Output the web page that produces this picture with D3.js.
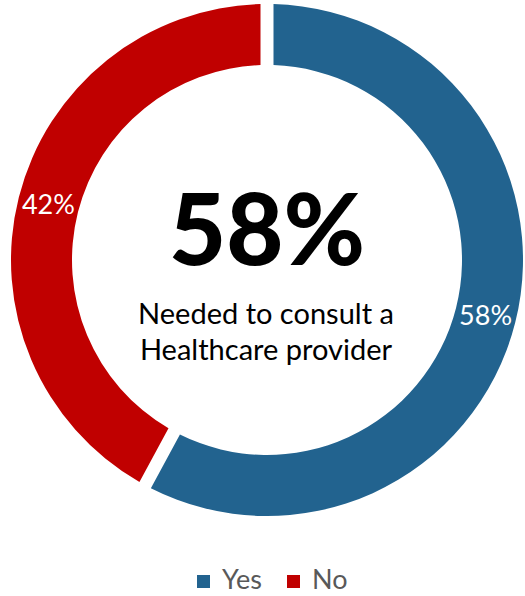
<!DOCTYPE html>
<html>
<head>
<meta charset="utf-8">
<script src="https://cdn.jsdelivr.net/npm/d3@7"></script>
<style>
  html, body { margin: 0; padding: 0; background: #ffffff; }
  svg { display: block; }
  text { font-family: Lato, "Open Sans", sans-serif; }
</style>
</head>
<body>
<svg id="chart" width="525" height="596"></svg>
<script>
// Survey answers: share who needed to consult a healthcare provider
const categories = ["Yes", "No"];
const shares = [58, 42];
const colors = ["#22638f", "#c00000"];
const headline = "58%";
const captionLines = ["Needed to consult a", "Healthcare provider"];

const svg = d3.select("#chart");
const cx = 267, cy = 260;
const outerR = 256, innerR = 195;

// scale text so it spans a given width
function fitWidth(sel, target) {
  const len = sel.node().getComputedTextLength();
  const fs = parseFloat(sel.attr("font-size"));
  sel.attr("font-size", fs * target / len);
}

const color = d3.scaleOrdinal().domain(categories).range(colors);

const pie = d3.pie()
  .sort(null)
  .value(d => d.value)
  .padAngle(13 / Math.sqrt(innerR * innerR + outerR * outerR));

const arc = d3.arc().innerRadius(innerR).outerRadius(outerR);
const labelArc = d3.arc().innerRadius(innerR + 2).outerRadius(outerR - 2);

const data = categories.map((c, i) => ({ name: c, value: shares[i] }));
const arcs = pie(data);

const g = svg.append("g").attr("transform", `translate(${cx},${cy})`);

g.selectAll("path.slice")
  .data(arcs)
  .join("path")
  .attr("class", "slice")
  .attr("d", arc)
  .attr("fill", d => color(d.data.name));

// value labels inside the ring
g.selectAll("text.value")
  .data(arcs)
  .join("text")
  .attr("class", "value")
  .attr("transform", d => `translate(${labelArc.centroid(d)})`)
  .attr("text-anchor", "middle")
  .attr("dy", "0.36em")
  .attr("font-size", 22)
  .attr("fill", "#ffffff")
  .text(d => d.data.value + "%")
  .each(function () { fitWidth(d3.select(this), 53); });

// headline number
const big = g.append("text")
  .attr("text-anchor", "middle")
  .attr("x", 0)
  .attr("y", 5)
  .attr("font-weight", 900)
  .attr("font-size", 100)
  .attr("fill", "#000000")
  .text(headline);
fitWidth(big, 196);

// caption under the headline
g.selectAll("text.caption")
  .data(captionLines)
  .join("text")
  .attr("class", "caption")
  .attr("text-anchor", "middle")
  .attr("x", -1)
  .attr("y", (d, i) => 64 + i * 36)
  .attr("font-size", 28)
  .attr("fill", "#000000")
  .text(d => d)
  .each(function (d, i) { if (i === 0) fitWidth(d3.select(this), 256); });
g.selectAll("text.caption").attr("font-size", g.select("text.caption").attr("font-size"));

// legend
const legend = svg.append("g").attr("transform", "translate(0,589)");
const legendX = d3.scaleOrdinal().domain(categories).range([197, 287]);
const items = legend.selectAll("g.item")
  .data(categories)
  .join("g")
  .attr("class", "item")
  .attr("transform", d => `translate(${legendX(d)},0)`);
items.append("rect")
  .attr("x", 0)
  .attr("y", -14)
  .attr("width", 13)
  .attr("height", 13)
  .attr("fill", d => color(d));
items.append("text")
  .attr("x", 25)
  .attr("y", 0)
  .attr("font-size", 27)
  .attr("fill", "#595959")
  .text(d => d);
</script>
</body>
</html>
